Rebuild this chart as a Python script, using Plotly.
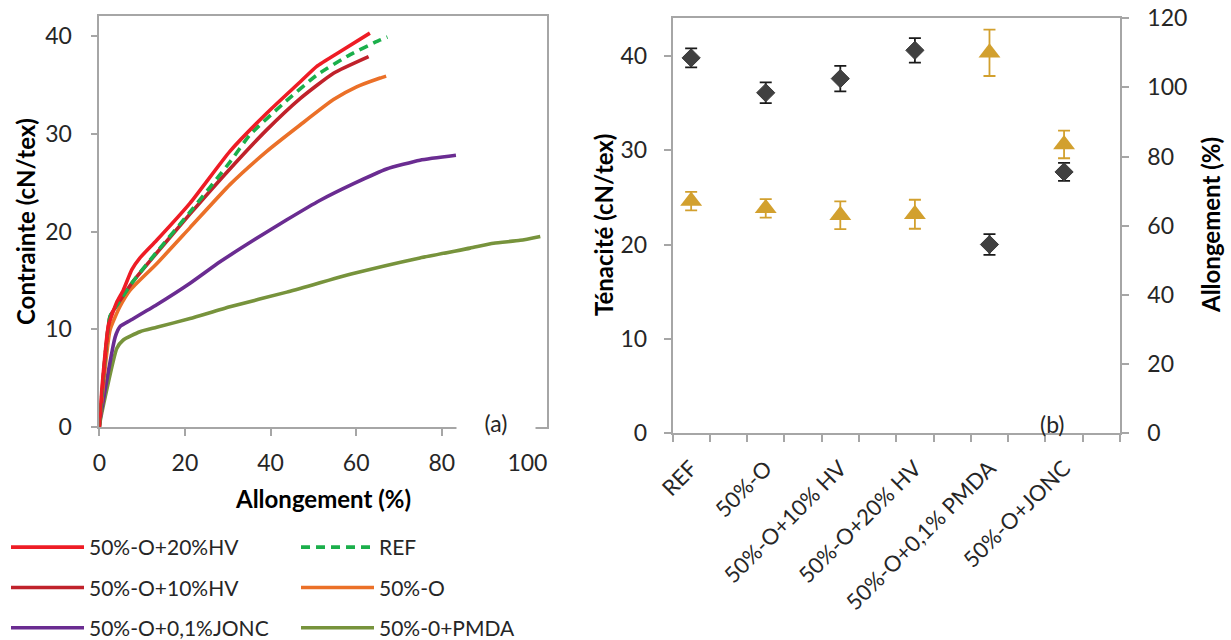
import plotly.graph_objects as go

W, H = 1231, 640

# ---------------- Panel (a): stress-strain curves ----------------
x_hv20 = [0, 0.2, 2.1, 4.1, 5.6, 7.6, 9.5, 13.4, 21.2, 30.5, 39.1, 46.9, 50.8, 56.2, 63.2]
y_hv20 = [0, 1.7, 10.3, 12.8, 14.0, 16.1, 17.3, 19.1, 22.9, 28.2, 32.1, 35.3, 36.9, 38.4, 40.3]

x_ref = [0, 0.2, 2.5, 4.4, 7.9, 13.4, 21.2, 30.5, 35.2, 43.0, 50.8, 58.6, 65.6, 67.3]
y_ref = [0, 1.2, 11.3, 12.65, 14.9, 17.9, 22.0, 27.1, 29.9, 33.1, 36.0, 38.1, 39.6, 39.9]

x_hv10 = [0, 0.2, 2.5, 4.4, 7.9, 13.4, 21.2, 30.5, 39.1, 46.9, 54.7, 62.9]
y_hv10 = [0, 1.2, 11.3, 12.65, 14.9, 17.8, 21.8, 26.4, 30.4, 33.6, 36.2, 37.9]

x_o = [0, 0.2, 2.5, 4.8, 7.2, 13.4, 21.2, 30.5, 39.1, 46.9, 54.7, 60.1, 65.6, 67.0]
y_o = [0, 1.0, 9.9, 12.3, 14.0, 16.7, 20.4, 24.8, 28.2, 30.9, 33.5, 34.8, 35.7, 35.9]

x_jonc = [0, 0.2, 3.7, 4.9, 7.2, 13.4, 21.2, 28.2, 36.0, 43.8, 51.6, 59.4, 67.1, 74.9, 83.3]
y_jonc = [0, 0.8, 9.2, 10.3, 10.9, 12.5, 14.7, 16.9, 19.1, 21.2, 23.2, 24.9, 26.4, 27.3, 27.8]

x_pmda = [0, 0.2, 4.1, 5.6, 9.5, 13.4, 21.2, 30.5, 43.8, 59.3, 74.9, 86.6, 92.1, 98.3, 103.0]
y_pmda = [0, 0.6, 8.05, 8.9, 9.75, 10.2, 11.1, 12.3, 13.8, 15.7, 17.3, 18.3, 18.8, 19.1, 19.5]

# ---------------- Panel (b): tenacity / elongation ----------------
categories = ["REF", "50%-O", "50%-O+10% HV", "50%-O+20% HV", "50%-O+0,1% PMDA", "50%-O+JONC"]
tenacite = [39.8, 36.1, 37.6, 40.6, 20.0, 27.7]
tenacite_err = [1.0, 1.1, 1.35, 1.3, 1.1, 0.95]
allongement = [67.1, 65.0, 63.0, 63.3, 110.0, 83.5]
allongement_err = [2.7, 2.7, 4.0, 4.2, 6.7, 4.0]

# ---------------- styling ----------------
FONT = "Lato"
TXT = "#262626"
AX = "#A6A6A6"

fig = go.Figure()

curves = [
    ("50%-O+20%HV", x_hv20, y_hv20, "#EE1C25", "solid", "legend"),
    ("REF", x_ref, y_ref, "#1BAF4B", "9px,6px", "legend2"),
    ("50%-O+10%HV", x_hv10, y_hv10, "#C0222B", "solid", "legend"),
    ("50%-O", x_o, y_o, "#EB7028", "solid", "legend2"),
    ("50%-O+0,1%JONC", x_jonc, y_jonc, "#6A2C91", "solid", "legend"),
    ("50%-0+PMDA", x_pmda, y_pmda, "#77933C", "solid", "legend2"),
]
draw_order = [5, 4, 3, 2, 1, 0]
for i in draw_order:
    name, xs, ys, col, dash, lg = curves[i]
    fig.add_trace(go.Scatter(
        x=xs, y=ys, mode="lines", name=name,
        line=dict(color=col, width=3.6, dash=dash, shape="spline", smoothing=0.5),
        xaxis="x", yaxis="y", legend=lg, legendgroup=name,
        legendrank=i,
    ))

xpos = [2 * i + 0.5 for i in range(len(categories))]

fig.add_trace(go.Scatter(
    x=xpos, y=allongement, mode="markers", name="Allongement",
    marker=dict(symbol="triangle-up", size=19, color="#D2A02E"),
    error_y=dict(type="data", array=allongement_err, color="#D2A02E", thickness=1.8, width=6),
    xaxis="x2", yaxis="y3", showlegend=False,
))
fig.add_trace(go.Scatter(
    x=xpos, y=tenacite, mode="markers", name="Ténacité",
    marker=dict(symbol="diamond", size=14, color="#404040", line=dict(color="#3a3a3a", width=1)),
    error_y=dict(type="data", array=tenacite_err, color="#1a1a1a", thickness=1.8, width=6),
    xaxis="x2", yaxis="y2", showlegend=False,
))

def px(x):
    return x / W

def py(y):
    return 1 - y / H

tickfont = dict(family=FONT, size=23, color=TXT)
titlefont = dict(family=FONT, size=24, color="#000")
common = dict(showgrid=False, zeroline=False, automargin=False,
              ticks="outside", ticklen=7, tickcolor=AX, tickwidth=1.5,
              showline=True, linecolor=AX, linewidth=1.5)
legfont = dict(family=FONT, size=21, color=TXT)

fig.update_layout(
    width=W, height=H,
    margin=dict(l=0, r=0, t=0, b=0, autoexpand=False),
    paper_bgcolor="white", plot_bgcolor="white",
    font=dict(family=FONT, color=TXT),
    xaxis=dict(
        domain=[px(99.3), px(546.7)], range=[0, 104.5],
        tickvals=[0, 20, 40, 60, 80, 100], mirror=True,
        tickfont=tickfont, ticklabelstandoff=8, anchor="y", **common,
    ),
    yaxis=dict(
        domain=[py(427), py(16)], range=[0, 42.05],
        tickvals=[0, 10, 20, 30, 40], mirror=True,
        tickfont=tickfont, ticklabelstandoff=14, anchor="x", **common,
    ),
    xaxis2=dict(
        domain=[px(672.5), px(1120)], range=[0, 12],
        tickmode="array", tickvals=xpos, ticktext=categories,
        tickangle=-45, tickfont=dict(family=FONT, size=22, color=TXT), ticklabelstandoff=12,
        minor=dict(tickmode="array", tickvals=list(range(13)), ticks="outside",
                   ticklen=7, tickcolor=AX, tickwidth=1.5, showgrid=False),
        mirror=True, anchor="y2",
        **{k: v for k, v in common.items() if k not in ("ticks",)}, ticks="",
    ),
    yaxis2=dict(
        domain=[py(433), py(18.3)], range=[0, 44.0],
        tickvals=[0, 10, 20, 30, 40],
        tickfont=tickfont, ticklabelstandoff=12, anchor="x2", **common,
    ),
    yaxis3=dict(
        domain=[py(433), py(18.3)], range=[0, 120], overlaying="y2", side="right",
        tickvals=[0, 20, 40, 60, 80, 100, 120],
        tickfont=tickfont, ticklabelstandoff=14, anchor="x2", **common,
    ),
    legend=dict(
        x=px(6), y=py(527), xanchor="left", yanchor="top",
        orientation="v", traceorder="grouped", tracegroupgap=10,
        font=legfont, itemwidth=73, bgcolor="rgba(0,0,0,0)",
    ),
    legend2=dict(
        x=px(296), y=py(527), xanchor="left", yanchor="top",
        orientation="v", traceorder="grouped", tracegroupgap=10,
        font=legfont, itemwidth=73, bgcolor="rgba(0,0,0,0)",
    ),
    annotations=[
        dict(text="<b>Contrainte (cN/tex)</b>", x=px(25), y=py(222), textangle=-90, font=titlefont),
        dict(text="<b>Allongement (%)</b>", x=px(323), y=py(498), font=titlefont),
        dict(text="<b>Ténacité (cN/tex)</b>", x=px(603), y=py(225), textangle=-90, font=titlefont),
        dict(text="<b>Allongement (%)</b>", x=px(1210), y=py(225), textangle=-90, font=titlefont),
        dict(text="(a)", x=px(496), y=py(423), bgcolor="white", width=76, height=28,
             font=dict(family=FONT, size=23, color=TXT)),
        dict(text="(b)", x=px(1052), y=py(424), font=dict(family=FONT, size=23, color=TXT)),
    ],
)
fig.update_annotations(xref="paper", yref="paper", showarrow=False,
                       xanchor="center", yanchor="middle")

fig.write_html("out.html", config={"displayModeBar": False},
               post_script="document.body.style.margin='0';")
